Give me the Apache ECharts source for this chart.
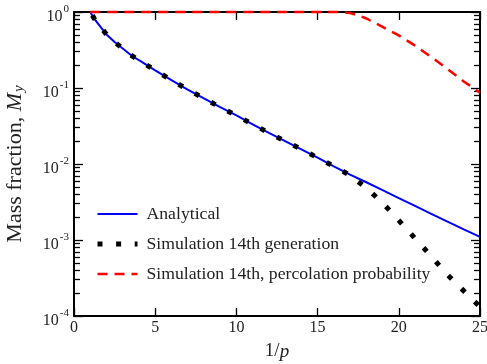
<!DOCTYPE html>
<html>
<head>
<meta charset="utf-8">
<script src="https://cdn.jsdelivr.net/npm/echarts@6/dist/echarts.min.js"></script>
<style>
  html, body { margin: 0; padding: 0; background: #fff; }
  #main { width: 487px; height: 364px; }
</style>
</head>
<body>
<div id="main"></div>
<script>
// values (1/p on x, mass fraction on y)
const analyticX = [1, 1.25, 1.5, 2, 2.5, 3, 3.5, 4, 5, 6, 7, 8, 9, 10, 11, 12, 13, 14, 15, 16, 17, 18, 19, 20, 21, 22, 23, 24, 25];
const analyticY = [1.0, 0.817, 0.692, 0.507, 0.403, 0.330, 0.271, 0.232, 0.171, 0.127, 0.0955, 0.0730, 0.0560, 0.0435, 0.0333, 0.0257, 0.0200, 0.0156, 0.0121, 0.00933, 0.00724, 0.00575, 0.00452, 0.00355, 0.00281, 0.00221, 0.00175, 0.00138, 0.00110];

const simX = [1, 1.25, 1.5, 2, 2.5, 3, 3.5, 4, 5, 6, 7, 8, 9, 10, 11, 12, 13, 14, 15, 16, 17, 18, 19, 20, 21, 22, 23, 24, 25];
const simY = [1.0, 0.817, 0.692, 0.507, 0.403, 0.330, 0.271, 0.232, 0.171, 0.127, 0.0955, 0.0730, 0.0560, 0.0435, 0.0333, 0.0257, 0.0200, 0.0156, 0.0121, 0.00933, 0.0071, 0.00484, 0.00308, 0.00181, 0.00105, 0.00061, 0.000348, 0.000214, 0.000132];

const percX = [1, 5, 10, 15, 16, 16.5, 17, 17.5, 18, 19, 20, 21, 22, 23, 24, 25];
const percY = [1, 1, 1, 1, 1, 0.995, 0.968, 0.905, 0.822, 0.638, 0.492, 0.361, 0.256, 0.178, 0.122, 0.0865];

const yMajor = [1e-4, 1e-3, 1e-2, 1e-1, 1];
const minorSteps = [2, 3, 4, 5, 6, 7, 8, 9];

const names = ['Analytical', 'Simulation 14th generation', 'Simulation 14th, percolation probability'];

const yMinor = [];
yMajor.slice(0, 4).forEach(d => minorSteps.forEach(m => yMinor.push(+(d * m).toPrecision(3))));

function pairs(xs, ys) {
  return xs.map((x, i) => [x, ys[i]]);
}

const FONT = 'Liberation Serif';
const TXT = '#222';

const chart = echarts.init(document.getElementById('main'));

function xAxisOpt(pos, labels) {
  return {
    type: 'value', position: pos, min: 0, max: 25, interval: 5,
    axisLine: { show: true, onZero: false, lineStyle: { color: '#000', width: 2 } },
    axisTick: { show: true, inside: true, length: 8, lineStyle: { color: '#000', width: 1.3 } },
    axisLabel: { show: labels, margin: 4, fontFamily: FONT, fontSize: 16, color: TXT },
    splitLine: { show: false }
  };
}

function yAxisOpt(pos, minor, labels) {
  return {
    type: 'log', logBase: 10, position: pos, min: 1e-4, max: 1,
    axisLine: { show: !minor, onZero: false, lineStyle: { color: '#000', width: 2 } },
    axisTick: minor
      ? { show: true, inside: true, length: 6, customValues: yMinor, lineStyle: { color: '#000', width: 1.3 } }
      : { show: true, inside: true, length: 9, customValues: yMajor, lineStyle: { color: '#000', width: 1.3 } },
    axisLabel: labels ? {
      show: true, margin: 5, customValues: yMajor,
      formatter: v => '{b|10}{s|' + Math.round(Math.log10(v)) + '}',
      rich: {
        b: { fontFamily: FONT, fontSize: 16, color: TXT, verticalAlign: 'bottom', padding: [10, 0, 0, 0] },
        s: { fontFamily: FONT, fontSize: 11, color: TXT, verticalAlign: 'top', padding: [5, 0, 0, 1] }
      }
    } : { show: false },
    splitLine: { show: false },
    minorTick: { show: false }
  };
}

const xAxes = [xAxisOpt('bottom', true), xAxisOpt('top', false)];
xAxes[0].name = '{a|1/}{i|p}';
xAxes[0].nameLocation = 'middle';
xAxes[0].nameGap = 26;
xAxes[0].nameTextStyle = {
  rich: {
    a: { fontFamily: FONT, fontSize: 19, color: TXT },
    i: { fontFamily: FONT, fontSize: 19, fontStyle: 'italic', color: TXT }
  }
};

const yAxes = [
  yAxisOpt('left', false, true),
  yAxisOpt('right', false, false),
  yAxisOpt('left', true, false),
  yAxisOpt('right', true, false)
];
yAxes[0].name = '{a|Mass fraction, }{i|M}{sub|y}';
yAxes[0].nameLocation = 'middle';
yAxes[0].nameGap = 47;
yAxes[0].nameTextStyle = {
  rich: {
    a: { fontFamily: FONT, fontSize: 22, color: TXT, verticalAlign: 'top' },
    i: { fontFamily: FONT, fontSize: 22, fontStyle: 'italic', color: TXT, verticalAlign: 'top' },
    sub: { fontFamily: FONT, fontSize: 15, fontStyle: 'italic', color: TXT, verticalAlign: 'bottom', padding: [8, 0, 0, 1] }
  }
};

chart.setOption({
  animation: false,
  backgroundColor: '#fff',
  grid: { left: 74, right: 7, top: 12, bottom: 48, containLabel: false, outerBoundsMode: 'none' },
  xAxis: xAxes,
  yAxis: yAxes,
  legend: {
    show: true,
    orient: 'vertical', left: 90, top: 200,
    itemWidth: 40, itemHeight: 18, itemGap: 12,
    itemStyle: { color: 'transparent', borderWidth: 0 },
    lineStyle: { width: 'inherit', dashOffset: 0 },
    textStyle: { fontFamily: FONT, fontSize: 17.7, color: TXT, padding: [0, 0, 0, 4] },
    data: names
  },
  series: [
    {
      name: names[0], type: 'line', data: pairs(analyticX, analyticY),
      symbol: 'none', clip: false,
      color: '#0000ff', lineStyle: { color: '#0000ff', width: 2 }, z: 2
    },
    {
      name: names[1], type: 'line', data: pairs(simX, simY),
      symbol: 'none', clip: false,
      color: '#000', lineStyle: { color: '#000', width: 5, type: [5, 13.6], dashOffset: 14.6, cap: 'butt' }, z: 3
    },
    {
      name: names[2], type: 'line', data: pairs(percX, percY),
      symbol: 'none', clip: false,
      color: '#ff0000', lineStyle: { color: '#ff0000', width: 2.5, type: [10, 7] }, z: 4
    }
  ]
});
</script>
</body>
</html>
